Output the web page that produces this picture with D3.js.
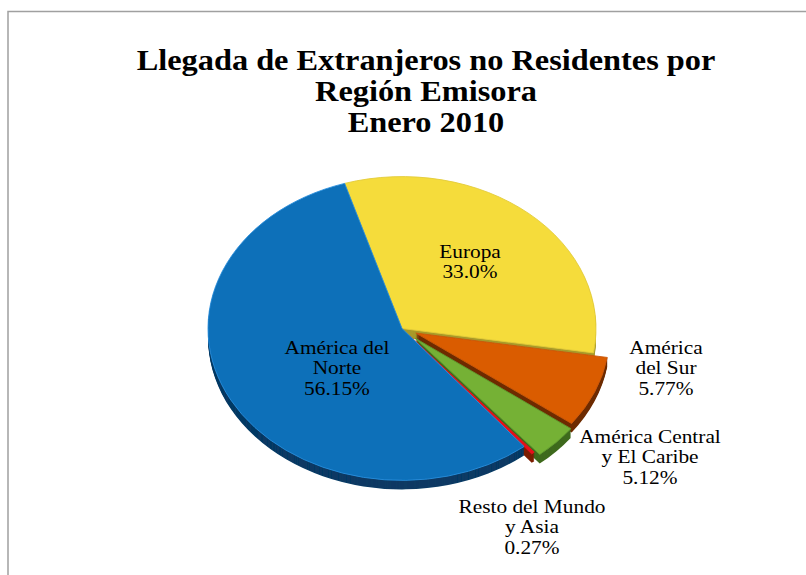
<!DOCTYPE html>
<html>
<head>
<meta charset="utf-8">
<script src="https://cdn.jsdelivr.net/npm/d3@7"></script>
<style>
html, body { margin: 0; padding: 0; background: #fff; }
text { font-family: "Liberation Serif", serif; fill: #000; }
</style>
</head>
<body>
<div id="chart"></div>
<script>
const titleLines = ["Llegada de Extranjeros no Residentes por", "Región Emisora", "Enero 2010"]
const regions = ["Europa", "América del Sur", "América Central y El Caribe", "Resto del Mundo y Asia", "América del Norte"]
// slice sizes as drawn in the picture (perspective makes them differ from the printed labels)
const drawnShares = [32.4, 7.6, 3.75, 0.27, 56.15]
const labelLines = [
    ["Europa", "33.0%"],
    ["América", "del Sur", "5.77%"],
    ["América Central", "y El Caribe", "5.12%"],
    ["Resto del Mundo", "y Asia", "0.27%"],
    ["América del", "Norte", "56.15%"]
]
const topColors = ["#f5dc3b", "#da5c04", "#74b136", "#e8101a", "#0b6fb9"]
const sideColors = ["#a89a2a", "#6e2c02", "#3f6a1c", "#7d1e06", "#083a64"]
const edgeColors = ["#e3cb3a", "#c9560a", "#5f9a2e", "#e8101a", "#2b8fdc"]

const WIDTH = 806
const HEIGHT = 575
const CX = 402
const CY = 328.5
const RADIUS = 194
const TILT = 0.783
const DEPTH = 9
const START = -17.2 * Math.PI / 180
const explode = [0, 15, 18, 12, 0]
const labelPos = [[470, 258], [666, 354], [650, 443], [532, 513], [337, 354]]
const LABEL_STRETCH = 1.186
const TITLE_STRETCH = 1.135

const svg = d3.select("#chart").append("svg")
    .attr("width", WIDTH)
    .attr("height", HEIGHT)
    .style("display", "block")

const defs = svg.append("defs")
defs.append("filter").attr("id", "soft")
    .append("feGaussianBlur").attr("stdDeviation", 0.7)

// chart frame, open on the right and at the bottom
svg.append("path")
    .attr("d", d3.line()([[8, HEIGHT], [8, 11.5], [WIDTH, 11.5]]))
    .attr("fill", "none")
    .attr("stroke", "#a0a0a0")
    .attr("stroke-width", 1.5)

const pie = d3.pie().sort(null)
    .startAngle(START)
    .endAngle(START + 2 * Math.PI)
const arcs = pie(drawnShares)
const arc = d3.arc().innerRadius(0).outerRadius(RADIUS)

function offset(d, i) {
    const mid = (d.startAngle + d.endAngle) / 2
    return [Math.sin(mid) * explode[i], -Math.cos(mid) * explode[i]]
}

const pieGroup = svg.append("g").attr("filter", "url(#soft)")

// side wall: stacked copies of each slice going down
for (let step = DEPTH; step >= 1; step--) {
    pieGroup.append("g")
        .attr("transform", "translate(" + CX + "," + (CY + step) + ") scale(1," + TILT + ")")
        .selectAll("path")
        .data(arcs)
        .join("path")
        .attr("transform", (d, i) => "translate(" + offset(d, i) + ")")
        .attr("d", arc)
        .attr("fill", (d, i) => sideColors[i])
}

const tops = pieGroup.append("g")
    .attr("transform", "translate(" + CX + "," + CY + ") scale(1," + TILT + ")")

tops.selectAll("path")
    .data(arcs)
    .join("path")
    .attr("transform", (d, i) => "translate(" + offset(d, i) + ")")
    .attr("d", arc)
    .attr("fill", (d, i) => topColors[i])
    .attr("stroke", (d, i) => edgeColors[i])
    .attr("stroke-width", 1)

// slice labels, the reference text is stretched sideways
labelLines.forEach(function (lines, i) {
    const label = svg.append("text")
        .attr("text-anchor", "middle")
        .attr("font-size", 18)
        .attr("transform", "translate(" + labelPos[i][0] + "," + labelPos[i][1] + ") scale(" + LABEL_STRETCH + ",1)")
    lines.forEach(function (line, j) {
        label.append("tspan")
            .attr("x", 0)
            .attr("y", j * 20.5)
            .text(line)
    })
})

// title
const title = svg.append("text")
    .attr("text-anchor", "middle")
    .attr("font-size", 28.5)
    .attr("font-weight", "bold")
    .attr("transform", "translate(426,69.5) scale(" + TITLE_STRETCH + ",1)")
titleLines.forEach(function (line, j) {
    title.append("tspan")
        .attr("x", 0)
        .attr("y", j * 31.2)
        .text(line)
})
</script>
</body>
</html>
